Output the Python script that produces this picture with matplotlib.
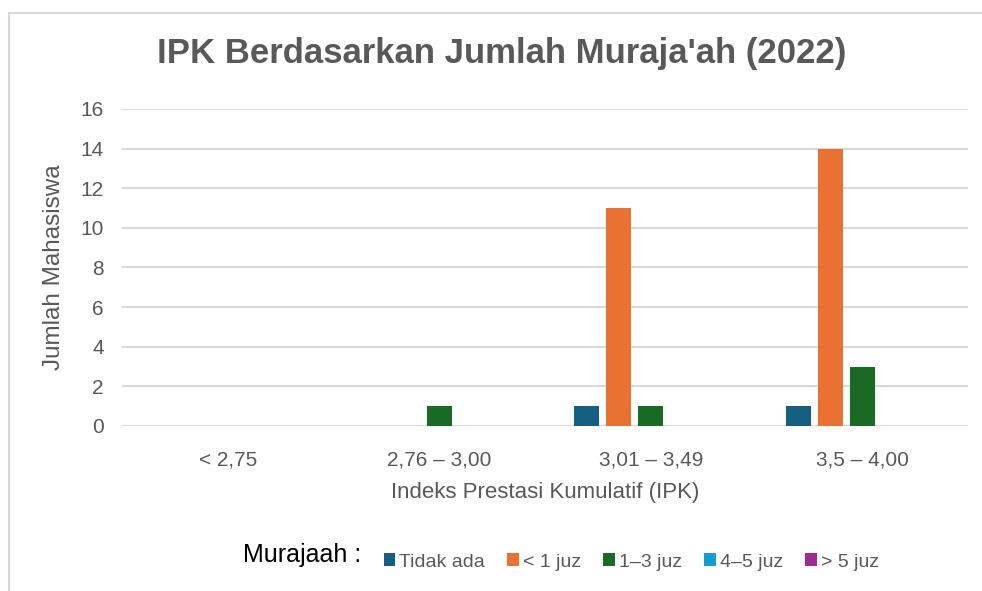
import matplotlib.pyplot as plt
import numpy as np
from matplotlib.patches import Patch, Rectangle

plt.rcParams['font.family'] = ['Liberation Sans', 'DejaVu Sans']

categories = ['< 2,75', '2,76 – 3,00', '3,01 – 3,49', '3,5 – 4,00']
series = ['Tidak ada', '< 1 juz', '1–3 juz', '4–5 juz', '> 5 juz']
tidak_ada = [0, 0, 1, 1]
kurang_1 = [0, 0, 11, 14]
juz_1_3 = [0, 1, 1, 3]
juz_4_5 = [0, 0, 0, 0]
lebih_5 = [0, 0, 0, 0]
values = [tidak_ada, kurang_1, juz_1_3, juz_4_5, lebih_5]
colors = ['#156082', '#E97132', '#196B24', '#0F9ED5', '#A02B93']

gray = '#595959'

fig = plt.figure(figsize=(9.82, 5.91), dpi=100)
ax = fig.add_axes([0.1242, 0.2792, 0.8615, 0.5364])

x = np.arange(len(categories))
step = 0.151
width = 0.118
for i, (vals, c) in enumerate(zip(values, colors)):
    ax.bar(x + (i - 2) * step, vals, width, color=c, zorder=3)

ax.set_xlim(-0.5, 3.5)
ax.set_ylim(0, 16)
ax.set_yticks(range(0, 17, 2))
ax.set_xticks(x)
ax.set_xticklabels(categories)
ax.tick_params(length=0, labelsize=15, colors=gray)
ax.tick_params(axis='x', pad=18)
ax.tick_params(axis='y', pad=13)
ax.grid(axis='y', color='#d9d9d9', linewidth=1.5, zorder=0)
for s in ax.spines.values():
    s.set_visible(False)

ax.set_ylabel('Jumlah Mahasiswa', fontsize=17.5, color=gray, labelpad=11)
ax.set_xlabel('Indeks Prestasi Kumulatif (IPK)', fontsize=16, color=gray, labelpad=9)

fig.text(502 / 982, 1 - 53 / 591, "IPK Berdasarkan Jumlah Muraja'ah (2022)", ha='center', va='center',
         fontsize=25, fontweight='bold', color=gray)

fig.text(243 / 982, 1 - 555 / 591, 'Murajaah :', ha='left', va='center', fontsize=18, color='black')
handles = [Patch(facecolor=c, label=s) for s, c in zip(series, colors)]
fig.legend(handles=handles, loc='center left', bbox_to_anchor=(366 / 982, 1 - 562 / 591),
           ncol=5, frameon=False, fontsize=14, handlelength=0.6, handleheight=0.6,
           handletextpad=0.2, columnspacing=1.15, labelcolor=gray)

fig.patches.append(Rectangle((9 / 982, -0.1), 1.2, 1 - 13 / 591 + 0.1, transform=fig.transFigure,
                             fill=False, edgecolor='#d9d9d9', linewidth=1.5))

fig.savefig('out.png', dpi=100)
